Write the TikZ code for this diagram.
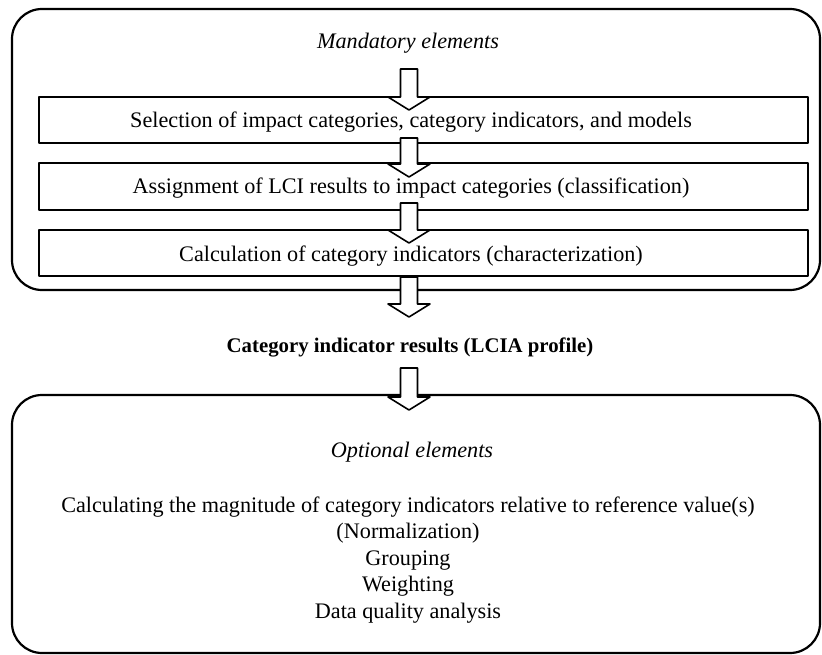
\documentclass[tikz,border=0pt]{standalone}
\usepackage{fontspec}
\setmainfont{Liberation Serif}
\usetikzlibrary{calc}
\newcommand\barrow[2]{%
  \draw[blockarrow] let \p1=(#1), \p2=(#2) in
    (\x1-8.5pt,\y1) -- (\x1+8.5pt,\y1) -- (\x1+8.5pt,\y2+13pt) -- (\x1+21pt,\y2+13pt)
    -- (\x1,\y2) -- (\x1-21pt,\y2+13pt) -- (\x1-8.5pt,\y2+13pt) -- cycle;}
\begin{document}
\begin{tikzpicture}[x=1pt,y=-1pt,line join=round,
  outer/.style={draw,line width=2.2pt,rounded corners=30pt,minimum width=808pt,inner sep=0pt},
  stepbox/.style={draw,line width=2pt,minimum width=769pt,inner sep=0pt},
  txt/.style={font=\fontsize{22.2}{26}\selectfont,inner sep=0pt},
  blockarrow/.style={draw,fill=white,line width=1.6pt}]
\useasboundingbox (0,0) rectangle (822,655);
\node[outer,minimum height=281pt] (mandbox) at (416,149.5) {};
\node[outer,minimum height=258pt] (optbox) at (416,524) {};
\node[stepbox,minimum height=46pt] (b1) at (423.5,120) {};
\node[stepbox,minimum height=47pt] (b2) at (423.5,186.5) {};
\node[stepbox,minimum height=46pt] (b3) at (423.5,253) {};
\node[txt,font=\fontsize{22.2}{26}\selectfont\itshape] (mand) at (408,43) {Mandatory elements};
\node[txt] (t1) at (411,122) {Selection of impact categories, category indicators, and models};
\node[txt] (t2) at (411,188) {Assignment of LCI results to impact categories (classification)};
\node[txt] (t3) at (411,256) {Calculation of category indicators (characterization)};
\node[txt,font=\fontsize{20.8}{25}\selectfont\bfseries] (res) at (410,347) {Category indicator results (LCIA profile)};
\node[txt,font=\fontsize{22.2}{26}\selectfont\itshape] (opt) at (412,452) {Optional elements};
\node[txt,align=center,font=\fontsize{22.2}{26.5}\selectfont] (optlist) at (408,560)
  {Calculating the magnitude of category indicators relative to reference value(s)\\(Normalization)\\Grouping\\Weighting\\Data quality analysis};
\coordinate (a1s) at (409,69);  \coordinate (a1e) at (409,110);
\coordinate (a2s) at (409,138); \coordinate (a2e) at (409,177);
\coordinate (a3s) at (409,203); \coordinate (a3e) at (409,243);
\coordinate (a4s) at (409,277); \coordinate (a4e) at (409,317);
\coordinate (a5s) at (409,368); \coordinate (a5e) at (409,410);
\barrow{a1s}{a1e}
\barrow{a2s}{a2e}
\barrow{a3s}{a3e}
\barrow{a4s}{a4e}
\barrow{a5s}{a5e}
\end{tikzpicture}
\end{document}
